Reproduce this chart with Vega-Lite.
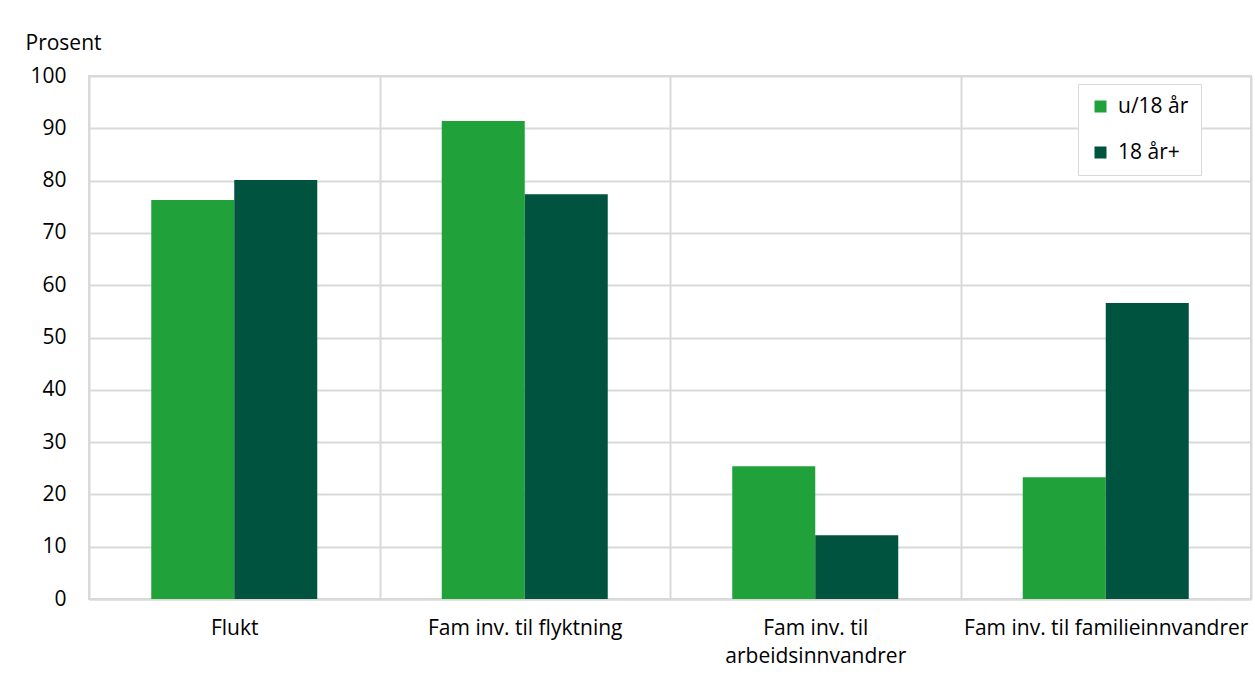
{
  "$schema": "https://vega.github.io/schema/vega-lite/v6.json",
  "width": 1162,
  "height": 523,
  "autosize": {"type": "none"},
  "padding": {"left": 89, "top": 76, "right": 4, "bottom": 78},
  "background": "white",
  "config": {
    "font": "Open Sans",
    "view": {"stroke": "#d9d9d9", "strokeWidth": 2},
    "axis": {"labelFont": "Open Sans", "titleFont": "Open Sans", "labelColor": "#000", "titleColor": "#000"},
    "legend": {"strokeColor": "#d9d9d9"}
  },
  "data": {
    "values": [
      {"kategori": "Flukt", "gruppe": "u/18 år", "verdi": 76.3},
      {"kategori": "Flukt", "gruppe": "18 år+", "verdi": 80.1},
      {"kategori": "Fam inv. til flyktning", "gruppe": "u/18 år", "verdi": 91.4},
      {"kategori": "Fam inv. til flyktning", "gruppe": "18 år+", "verdi": 77.4},
      {"kategori": "Fam inv. til arbeidsinnvandrer", "gruppe": "u/18 år", "verdi": 25.4},
      {"kategori": "Fam inv. til arbeidsinnvandrer", "gruppe": "18 år+", "verdi": 12.2},
      {"kategori": "Fam inv. til familieinnvandrer", "gruppe": "u/18 år", "verdi": 23.3},
      {"kategori": "Fam inv. til familieinnvandrer", "gruppe": "18 år+", "verdi": 56.6}
    ]
  },
  "mark": {"type": "bar"},
  "encoding": {
    "x": {
      "field": "kategori",
      "type": "nominal",
      "sort": null,
      "scale": {"paddingInner": 0, "paddingOuter": 0},
      "axis": {
        "title": null,
        "labelAngle": 0,
        "labelFontSize": 21,
        "labelLimit": 400,
        "labelPadding": 18,
        "labelLineHeight": 28,
        "labelBaseline": "top",
        "labelExpr": "datum.label == 'Fam inv. til arbeidsinnvandrer' ? ['Fam inv. til', 'arbeidsinnvandrer'] : datum.label",
        "ticks": false,
        "domain": true,
        "domainColor": "#d9d9d9",
        "domainWidth": 2,
        "grid": true,
        "tickBand": "extent",
        "gridColor": "#d9d9d9",
        "gridWidth": 2
      }
    },
    "xOffset": {
      "field": "gruppe",
      "type": "nominal",
      "sort": ["u/18 år", "18 år+"],
      "scale": {"paddingInner": 0, "paddingOuter": 0.75}
    },
    "y": {
      "field": "verdi",
      "type": "quantitative",
      "scale": {"domain": [0, 100], "nice": false},
      "axis": {
        "values": [0, 10, 20, 30, 40, 50, 60, 70, 80, 90, 100],
        "title": "Prosent",
        "titleAngle": 0,
        "titleAlign": "left",
        "titleBaseline": "middle",
        "titleX": -64,
        "titleY": -33,
        "titleFontSize": 21,
        "titleFontWeight": "normal",
        "labelFontSize": 21,
        "labelPadding": 23,
        "ticks": false,
        "domain": false,
        "grid": true,
        "gridColor": "#d9d9d9",
        "gridWidth": 2
      }
    },
    "color": {
      "field": "gruppe",
      "type": "nominal",
      "sort": ["u/18 år", "18 år+"],
      "scale": {"domain": ["u/18 år", "18 år+"], "range": ["#21a13a", "#00543f"]},
      "legend": {
        "title": null,
        "orient": "none",
        "legendX": 989,
        "legendY": 8,
        "symbolType": "square",
        "symbolSize": 144,
        "symbolStrokeWidth": 0,
        "labelFontSize": 21,
        "labelOffset": 7,
        "rowPadding": 24,
        "padding": 12,
        "strokeColor": "#d9d9d9",
        "fillColor": "white"
      }
    }
  }
}
